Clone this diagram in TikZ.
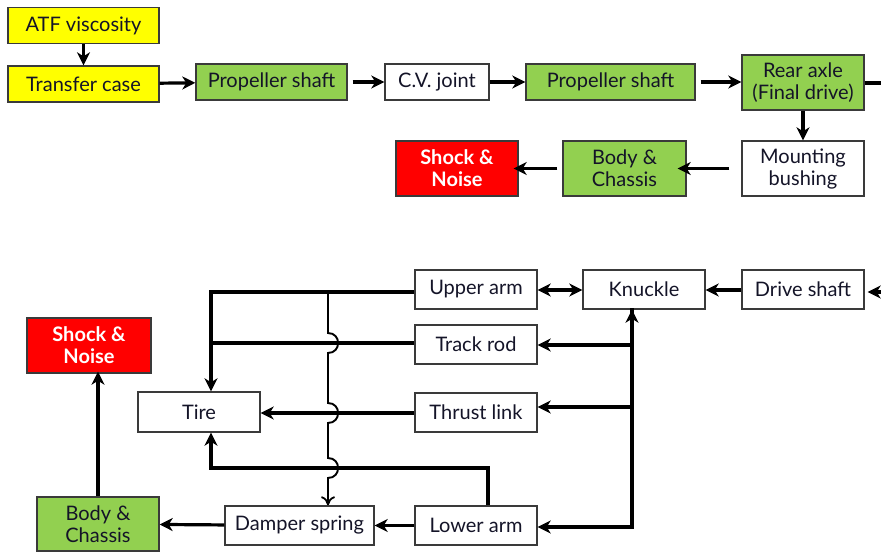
\documentclass[tikz,border=0pt]{standalone}
\usepackage{fontspec}
\setmainfont{Lato}
\usetikzlibrary{arrows.meta}
\definecolor{ylw}{HTML}{FFFF00}
\definecolor{grn}{HTML}{92D050}
\definecolor{rd}{HTML}{FF0000}
\definecolor{bd}{HTML}{3A3A3A}
\definecolor{tx}{HTML}{141428}
\begin{document}
\begin{tikzpicture}[x=1pt,y=-1pt,
  box/.style={draw=bd,line width=1.4pt,fill=white,inner sep=0pt,align=center,
    font=\fontsize{20}{22}\selectfont,text=tx},
  ybox/.style={box,fill=ylw},
  gbox/.style={box,fill=grn},
  rbox/.style={box,fill=rd,text=white,font=\fontsize{20}{22}\selectfont\bfseries},
  w151/.style={minimum width=151pt},
  w122/.style={minimum width=122pt},
  h36/.style={minimum height=36pt},
  h39/.style={minimum height=39pt},
  h55/.style={minimum height=55pt},
  tip/.style={-{Stealth[length=13pt,width=13pt,inset=4pt]}},
  arr/.style={line width=3.2pt,tip},
  thinarr/.style={line width=1.9pt,-{To[length=9pt,width=14pt,line width=1.8pt]}},
]
\path[use as bounding box] (0,0) rectangle (881,552);

% top chain
\node[ybox,w151,h36] (atf) at (83.5,25.5) {ATF viscosity};
\node[ybox,w151,h36] (tc) at (83.5,84) {Transfer case};
\node[gbox,w151,h36] (ps1) at (271.5,82) {Propeller shaft};
\node[box,minimum width=104pt,h36] (cv) at (437,82) {C.V. joint};
\node[gbox,minimum width=169pt,h36] (ps2) at (610.5,82) {Propeller shaft};
\node[gbox,w122,h55] (ra) at (803,82.5) {Rear axle\\(Final drive)};
\node[box,w122,h55] (mb) at (803,168.5) {Mounting\\bushing};
\node[gbox,minimum width=123pt,h55] (bc1) at (624.5,168.5) {Body \&\\Chassis};
\node[rbox,w122,h55] (sn1) at (457,168.5) {Shock \&\\Noise};
\coordinate (raout) at (884,83);

\draw[arr] (atf) -- (tc);
\draw[arr] (tc) -- (ps1);
\draw[arr] ([xshift=5pt]ps1.east) -- (cv);
\draw[arr] (cv) -- (ps2);
\draw[arr] ([xshift=5pt]ps2.east) -- (ra.west |- ps2.east);
\draw[line width=3.2pt] (ra.east |- raout) -- (raout);
\draw[arr] (ra) -- (mb);
\draw[arr] ([xshift=-12pt]mb.west) -- ([xshift=-9pt]bc1.east);
\draw[arr] ([xshift=-5pt]bc1.west) -- ([xshift=-5pt]sn1.east);

% bottom part
\node[box,w122,h39] (ua) at (476,289.5) {Upper arm};
\node[box,w122,h39] (kn) at (644,289.5) {Knuckle};
\node[box,w122,h39] (ds) at (803,289.5) {Drive shaft};
\node[box,w122,h39] (tr) at (476,344.5) {Track rod};
\node[box,w122,h39] (tl) at (476,412.5) {Thrust link};
\node[box,w122,h39] (la) at (476,525.5) {Lower arm};
\node[box,w122,minimum height=40pt] (ti) at (199,412) {Tire};
\node[box,minimum width=149pt,h39] (dsp) at (299.5,525.5) {Damper spring};
\node[gbox,w122,minimum height=54pt] (bc2) at (98,524) {Body \&\\Chassis};
\node[rbox,minimum width=124pt,h55] (sn2) at (89,345.5) {Shock \&\\Noise};

\coordinate (dsin) at (884,292);
\coordinate (tk) at (632,527);
\coordinate (tcorner) at (211,292);
\coordinate (lcorner) at (488,468);
\coordinate (vtop) at (328,292);
\coordinate (r290) at (0,290);
\coordinate (r345) at (0,345);
\coordinate (r343) at (0,343);
\coordinate (r407) at (0,407);
\coordinate (r413) at (0,413);

\draw[arr] (dsin) -- ([xshift=3pt]ds.east |- dsin);
\draw[arr] (ds.west |- r290) -- (kn.east |- r290);
\draw[line width=3.2pt,{Stealth[length=13pt,width=13pt,inset=4pt]}-{Stealth[length=13pt,width=13pt,inset=4pt]}] (ua.east |- r290) -- (kn.west |- r290);

% knuckle trunk
\draw[line width=3.2pt] ([yshift=1.6pt]tk) -- ([yshift=2pt]tk |- kn.south);
\draw[arr] (tk) -- (tk |- kn.south);
\draw[arr] (tk |- r345) -- (tr.east |- r345);
\draw[arr] (tk |- r407) -- (tl.east |- r407);
\draw[arr] ([xshift=1.6pt]tk) -- (la.east |- tk);

% to tire
\draw[line width=3.2pt] (ua.west |- tcorner) -- ([xshift=-1.6pt]tcorner);
\draw[arr] (tcorner) -- (ti.north -| tcorner);
\draw[line width=3.2pt] (tr.west |- r343) -- (tcorner |- r343);
\draw[arr] (tl.west |- r413) -- (ti.east |- r413);
\draw[line width=4pt,-{Stealth[length=13pt,width=13pt,inset=4pt]}] (la.north -| lcorner) -- (lcorner) -- (tcorner |- lcorner) -- (ti.south -| tcorner);

% vertical line with jumps
\draw[thinarr] (vtop)
  -- (328,333) .. controls (341.5,333) and (341.5,353) .. (328,353)
  -- (328,403) .. controls (341.5,403) and (341.5,423) .. (328,423)
  -- (328,458) .. controls (341.5,458) and (341.5,478) .. (328,478)
  -- (dsp.north -| vtop);

% damper / body / shock
\draw[arr] (la) -- (dsp);
\draw[arr] (dsp) -- (bc2);
\draw[arr] (bc2.north) -- ([yshift=2pt]sn2.south -| bc2.north);
\end{tikzpicture}
\end{document}
